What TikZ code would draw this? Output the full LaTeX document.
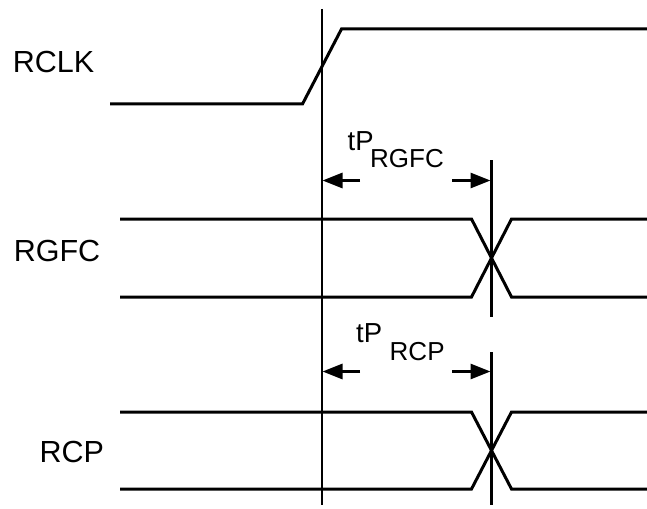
\documentclass[tikz,border=0pt]{standalone}
\usepackage{fontspec}
\setmainfont{Liberation Sans}
\usetikzlibrary{arrows.meta}
\begin{document}
\begin{tikzpicture}[x=1pt,y=-1pt,
  sig/.style={line width=3pt,line join=miter},
  mark line/.style={line width=2.6pt},
  dimarrow/.style={line width=3pt,-{Triangle[length=20pt,width=15pt]}},
  lbl/.style={inner sep=0pt,anchor=base west,font=\fontsize{30.5}{36}\selectfont},
  tlbl/.style={inner sep=0pt,anchor=base west,font=\fontsize{27.5}{32}\selectfont},
  slbl/.style={inner sep=0pt,anchor=base west,font=\fontsize{26}{30}\selectfont}]
\useasboundingbox (0,0) rectangle (647,508);
% labels
\node[lbl] (lrclk) at (12.6,73) {RCLK};
\node[lbl] (lrgfc) at (13.6,261) {RGFC};
\node[lbl] (lrcp) at (39.3,462) {RCP};
\node[tlbl] (t1) at (347.5,150) {tP};
\node[slbl] (s1) at (370,167) {RGFC};
\node[tlbl] (t2) at (356,342) {tP};
\node[slbl] (s2) at (389.5,360) {RCP};
% marker lines
\coordinate (v1a) at (322,9);
\coordinate (v1b) at (322,505);
\coordinate (v2a) at (491.5,160);
\coordinate (v2b) at (491.5,317);
\coordinate (v3a) at (491.5,352);
\coordinate (v3b) at (491.5,505);
\draw[mark line] (v1a) -- (v1b);
\draw[mark line] (v2a) -- (v2b);
\draw[mark line] (v3a) -- (v3b);
% RCLK
\coordinate (c0) at (110,104);
\coordinate (c1) at (302.5,104);
\coordinate (c2) at (341.5,29);
\coordinate (c3) at (647,29);
\draw[sig] (c0) -- (c1) -- (c2) -- (c3);
% RGFC
\coordinate (g0) at (120,219);
\coordinate (g1) at (471.5,219);
\coordinate (g2) at (511.5,297);
\coordinate (g3) at (647,297);
\coordinate (g4) at (120,297);
\coordinate (g5) at (471.5,297);
\coordinate (g6) at (511.5,219);
\coordinate (g7) at (647,219);
\draw[sig] (g0) -- (g1) -- (g2) -- (g3);
\draw[sig] (g4) -- (g5) -- (g6) -- (g7);
% RCP
\coordinate (p0) at (120,412);
\coordinate (p1) at (471.5,412);
\coordinate (p2) at (511.5,489);
\coordinate (p3) at (647,489);
\coordinate (p4) at (120,489);
\coordinate (p5) at (471.5,489);
\coordinate (p6) at (511.5,412);
\coordinate (p7) at (647,412);
\draw[sig] (p0) -- (p1) -- (p2) -- (p3);
\draw[sig] (p4) -- (p5) -- (p6) -- (p7);
% dimension arrows
\coordinate (a1s) at (360,180.5);
\coordinate (a1t) at (322.5,180.5);
\coordinate (a2s) at (452,180.5);
\coordinate (a2t) at (490.5,180.5);
\coordinate (b1s) at (360,371.5);
\coordinate (b1t) at (322.5,371.5);
\coordinate (b2s) at (452,371.5);
\coordinate (b2t) at (490.5,371.5);
\draw[dimarrow] (a1s) -- (a1t);
\draw[dimarrow] (a2s) -- (a2t);
\draw[dimarrow] (b1s) -- (b1t);
\draw[dimarrow] (b2s) -- (b2t);
\end{tikzpicture}
\end{document}
